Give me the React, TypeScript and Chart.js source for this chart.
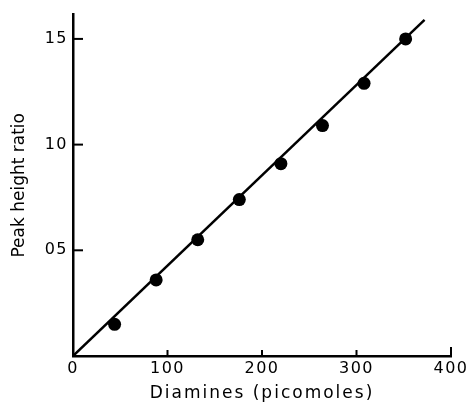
import React, { useEffect, useRef } from "react";
import { Chart, registerables } from "chart.js";

Chart.register(...registerables);

// Data
const diamines = [44, 88, 132, 176, 220, 264, 308, 352];
const peakRatio = [0.15, 0.36, 0.55, 0.74, 0.91, 1.09, 1.29, 1.5];
const fitX = [0, 372];
const fitY = [0, 1.59];
const xTicks = [0, 100, 200, 300, 400];
const yTicks = [0.5, 1.0, 1.5];
const yTickLabels = ["05", "10", "15"];

const INK = "#000000";
const FONT = "'DejaVu Sans', sans-serif";

const spacingPlugin = {
  id: "spacing",
  beforeUpdate(chart: any) {
    chart.ctx.letterSpacing = "1.5px";
  },
  beforeDraw(chart: any) {
    chart.ctx.letterSpacing = "1.5px";
  },
  afterUpdate(chart: any) {
    const spacing: Record<string, string> = { x: "2px", y: "0px" };
    Object.keys(spacing).forEach((id) => {
      const s = chart.scales[id];
      if (!s || s._spPatched) return;
      const orig = s.drawTitle;
      s.drawTitle = function (...args: any[]) {
        const c = this.ctx;
        const prev = c.letterSpacing;
        c.letterSpacing = spacing[id];
        orig.apply(this, args);
        c.letterSpacing = prev;
      };
      s._spPatched = true;
    });
  },
};

const tickMarks = {
  id: "tickMarks",
  afterDraw(chart: any) {
    const { ctx, chartArea } = chart;
    const x = chart.scales.x;
    const y = chart.scales.y;
    ctx.save();
    ctx.strokeStyle = INK;
    ctx.lineWidth = 2;
    xTicks.forEach((v) => {
      if (v === 0) return;
      const px = x.getPixelForValue(v);
      ctx.beginPath();
      ctx.moveTo(px, chartArea.bottom);
      ctx.lineTo(px, chartArea.bottom - (v === 400 ? 9 : 6));
      ctx.stroke();
    });
    yTicks.forEach((v) => {
      const py = y.getPixelForValue(v);
      ctx.beginPath();
      ctx.moveTo(chartArea.left, py);
      ctx.lineTo(chartArea.left + 10, py);
      ctx.stroke();
    });
    ctx.restore();
  },
};

export default function App() {
  const ref = useRef<HTMLCanvasElement | null>(null);

  useEffect(() => {
    if (!ref.current) return;
    const chart = new Chart(ref.current, {
      type: "scatter",
      data: {
        datasets: [
          {
            label: "Points",
            data: diamines.map((d, i) => ({ x: d, y: peakRatio[i] })),
            pointRadius: 6.5,
            pointBackgroundColor: INK,
            pointBorderWidth: 0,
            showLine: false,
          },
          {
            label: "Fit",
            data: fitX.map((d, i) => ({ x: d, y: fitY[i] })),
            showLine: true,
            borderColor: INK,
            borderWidth: 2.5,
            pointRadius: 0,
            tension: 0,
          },
        ],
      },
      options: {
        animation: false,
        responsive: true,
        maintainAspectRatio: false,
        layout: { padding: { top: 13, right: 22, left: 0, bottom: 0 } },
        plugins: {
          legend: { display: false },
          tooltip: { enabled: false },
        },
        scales: {
          x: {
            type: "linear",
            min: 0,
            max: 400,
            afterBuildTicks: (s: any) => {
              s.ticks = xTicks.map((v) => ({ value: v }));
            },
            afterFit: (s: any) => {
              s.height = 48;
            },
            grid: { display: false, drawTicks: false },
            border: { display: true, color: INK, width: 2.5 },
            ticks: {
              color: INK,
              font: { family: FONT, size: 16 },
              padding: 3,
              maxRotation: 0,
              autoSkip: false,
            },
            title: {
              display: true,
              text: "Diamines (picomoles)",
              color: INK,
              font: { family: FONT, size: 17, lineHeight: 1.2 },
              padding: { top: 0, bottom: 0 },
            },
          },
          y: {
            type: "linear",
            min: 0,
            max: 1.615,
            afterBuildTicks: (s: any) => {
              s.ticks = yTicks.map((v) => ({ value: v }));
            },
            afterFit: (s: any) => {
              s.width = 73;
            },
            grid: { display: false, drawTicks: false },
            border: { display: true, color: INK, width: 2.5 },
            ticks: {
              color: INK,
              font: { family: FONT, size: 16 },
              padding: 5,
              autoSkip: false,
              callback: (v: any) => {
                const i = yTicks.indexOf(Number(v));
                return i >= 0 ? yTickLabels[i] : "";
              },
            },
            title: {
              display: true,
              text: "Peak height ratio",
              color: INK,
              font: { family: FONT, size: 17, lineHeight: 1.2 },
              padding: { top: 9, bottom: 0 },
              align: "center",
            },
          },
        },
      },
      plugins: [spacingPlugin, tickMarks],
    });
    return () => chart.destroy();
  }, []);

  return (
    <div style={{ position: "fixed", left: 0, top: 0, width: 473, height: 404, background: "#fff" }}>
      <canvas ref={ref} />
    </div>
  );
}
